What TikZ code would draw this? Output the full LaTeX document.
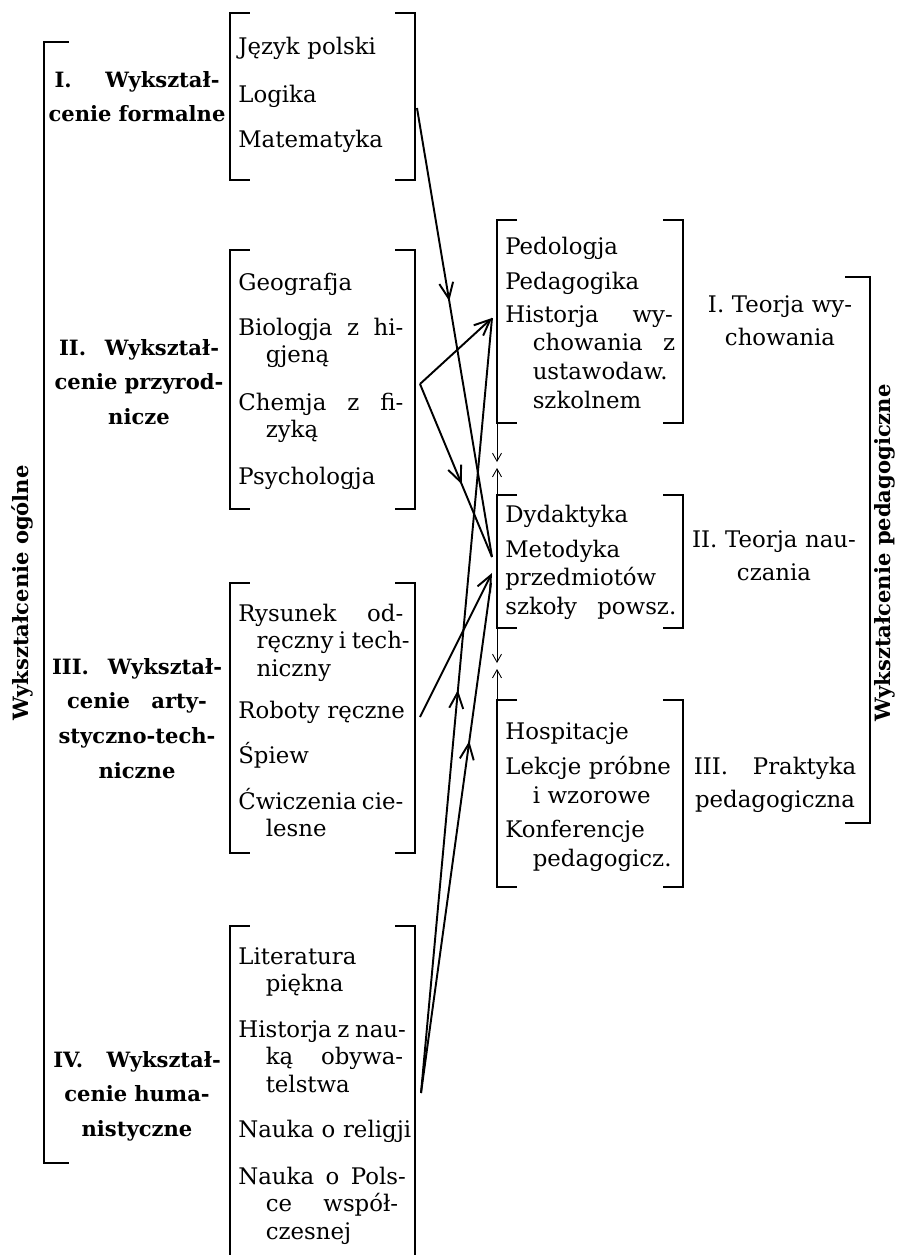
\documentclass[tikz,border=0pt]{standalone}
\usepackage{fontspec}
\setmainfont{DejaVu Serif}
\usetikzlibrary{arrows.meta, fit, decorations.markings}

\newcommand{\subind}{\hspace*{1.2em}}
\newcommand{\spread}[2][3.3cm]{\makebox[#1][s]{\spaceskip=0pt\xspaceskip=0pt\relax #2}}

\begin{document}
\begin{tikzpicture}[
        x=0.02cm, y=-0.02cm,
        subj/.style  = {anchor=base west, inner sep=0, text width=4cm, align=left, font=\fontsize{13}{15.9}\selectfont},
        pitem/.style = {subj, font=\fontsize{13}{16.5}\selectfont},
        grp/.style   = {anchor=base, inner sep=0, text width=3.9cm, align=center, font=\bfseries\fontsize{12}{19.8}\selectfont},
        teor/.style  = {anchor=base, inner sep=0, text width=3.4cm, align=center, font=\fontsize{13}{19.2}\selectfont},
        side/.style  = {rotate=90, inner sep=0, font=\bfseries\fontsize{12}{15}\selectfont},
        area/.style  = {inner sep=0, outer sep=0, fit={#1}},
        brk/.style   = {line width=1.6pt},
        conn/.style  = {line width=1.1pt},
        barb/.tip    = {Straight Barb[length=3.2mm, width=2.8mm]},
        midarrow/.style = {postaction={decorate}, decoration={markings, mark=at position #1 with {\arrow{barb}}}},
        gap/.style   = {line width=0.5pt, -{Straight Barb[length=1.6mm, width=1.8mm]}},
    ]
    \useasboundingbox (0,0) rectangle (899,1255);

    % bracket areas
    \node[area={(230,13) (415,180)}] (b1) {};
    \node[area={(230,250) (415,509)}] (b2) {};
    \node[area={(230,583) (415,853)}] (b3) {};
    \node[area={(230,926) (415,1256)}] (b4) {};
    \node[area={(497,220) (683,423)}] (pa) {};
    \node[area={(497,495) (683,628)}] (pb) {};
    \node[area={(497,700) (683,887)}] (pc) {};
    \foreach \b in {b1,b2,b3,pa,pb,pc}{
        \draw[brk] ([xshift=4mm]\b.north west) -- (\b.north west) -- (\b.south west) -- ([xshift=4mm]\b.south west);
        \draw[brk] ([xshift=-4mm]\b.north east) -- (\b.north east) -- (\b.south east) -- ([xshift=-4mm]\b.south east);
    }
    \draw[brk] ([xshift=4mm]b4.north west) -- (b4.north west) -- (b4.south west);
    \draw[brk] ([xshift=-4mm]b4.north east) -- (b4.north east) -- (b4.south east);

    % big brackets
    \coordinate (og1) at (44,42);
    \coordinate (og2) at (44,1163);
    \coordinate (pd1) at (870,277);
    \coordinate (pd2) at (870,823);
    \draw[brk] ([xshift=5mm]og1) -- (og1) -- (og2) -- ([xshift=5mm]og2);
    \draw[brk] ([xshift=-5mm]pd1) -- (pd1) -- (pd2) -- ([xshift=-5mm]pd2);
    \node[side] (ogol) at (22,593) {Wykształcenie ogólne};
    \node[side] (pedg) at (885,553) {Wykształcenie pedagogiczne};

    % group labels
    \node[grp] (l1) at (137,87) {\spread[3.3cm]{I. Wykształ-}\\cenie formalne};
    \node[grp] (l2) at (139,355) {\spread[3.2cm]{II. Wykształ-}\\cenie przyrod-\\nicze};
    \node[grp] (l3) at (137,674) {\spread[3.4cm]{III. Wykształ-}\\\spread[2.8cm]{cenie arty-}\\styczno-tech-\\niczne};
    \node[grp] (l4) at (137,1067) {\spread[3.35cm]{IV. Wykształ-}\\cenie huma-\\nistyczne};

    % subjects
    \node[subj] (jez) at (238,54) {Język polski};
    \node[subj] (log) at (238,102) {Logika};
    \node[subj] (mat) at (238,147) {Matematyka};
    \node[subj] (geo) at (238,290) {Geografja};
    \node[subj] (bio) at (238,335) {\spread{Biologja z hi-}\\\subind gjeną};
    \node[subj] (che) at (238,410) {\spread{Chemja z fi-}\\\subind zyką};
    \node[subj] (psy) at (238,484) {Psychologja};
    \node[subj] (rys) at (238,621) {\spread{Rysunek od-}\\\hspace*{0.8em}ręczny\hspace{0.24em}i\hspace{0.24em}tech-\\\hspace*{0.8em}niczny};
    \node[subj] (rob) at (238,718) {Roboty ręczne};
    \node[subj] (spi) at (238,763) {Śpiew};
    \node[subj] (cwi) at (238,809) {\spread{Ćwiczenia cie-}\\\subind lesne};
    \node[subj] (lit) at (238,964) {Literatura\\\subind piękna};
    \node[subj] (hiz) at (238,1037) {\spread[3.35cm]{Historja z nau-}\\\subind\spread[2.75cm]{ką obywa-}\\\subind telstwa};
    \node[subj] (rel) at (238,1137) {Nauka o religji};
    \node[subj] (pol) at (238,1184) {\spread[3.35cm]{Nauka o Pols-}\\\subind\spread[2.65cm]{ce współ-}\\\subind czesnej};

    % pedagogical boxes
    \node[pitem] (ped) at (505,254) {Pedologja};
    \node[pitem] (pdg) at (505,289) {Pedagogika};
    \node[pitem] (hsw) at (505,322) {\spread[3.35cm]{Historja wy-}\\\subind\spread[2.85cm]{chowania z}\\\subind ustawodaw.\\\subind szkolnem};
    \node[pitem] (dyd) at (505,522) {Dydaktyka};
    \node[pitem] (met) at (505,557) {Metodyka\\przedmiotów\\\spread[3.42cm]{szkoły powsz.}};
    \node[pitem] (hos) at (505,739) {Hospitacje};
    \node[pitem] (lek) at (505,774) {Lekcje próbne\\\subind i wzorowe};
    \node[pitem] (kon) at (505,837) {Konferencje\\\subind pedagogicz.};

    \node[teor] (tI) at (780,312) {I. Teorja wy-\\chowania};
    \node[teor] (tII) at (774,547) {II. Teorja nau-\\czania};
    \node[teor] (tIII) at (775,774) {\spread[3.25cm]{III. Praktyka}\\pedagogiczna};

    % connectors
    \coordinate (sI) at (417,108);
    \coordinate (sII) at (420,384);
    \coordinate (sIII) at (420,717);
    \coordinate (sIV) at (421,1093);
    \coordinate (tHis) at (492,318);
    \coordinate (tMet) at (492,557);
    \coordinate (tPrz) at (492,573);
    \coordinate (tPrz2) at (491,583);
    \draw[conn, midarrow=0.43] (sI) -- (tMet);
    \draw[conn, -barb] (sII) -- (tHis);
    \draw[conn, midarrow=0.58] (sII) -- (tMet);
    \draw[conn, -barb] (sIII) -- (tPrz);
    \draw[conn, midarrow=0.52] (sIV) -- (tHis);
    \draw[conn, midarrow=0.69] (sIV) -- (tPrz2);

    % arrows between the boxes
    \coordinate (gab) at (497,465);
    \coordinate (gbc) at (497,666);
    \draw[gap] (pa.south west) -- ([yshift=0.6mm]gab);
    \draw[gap] (pb.north west) -- ([yshift=-0.6mm]gab);
    \draw[gap] (pb.south west) -- ([yshift=0.6mm]gbc);
    \draw[gap] (pc.north west) -- ([yshift=-0.6mm]gbc);
\end{tikzpicture}
\end{document}
